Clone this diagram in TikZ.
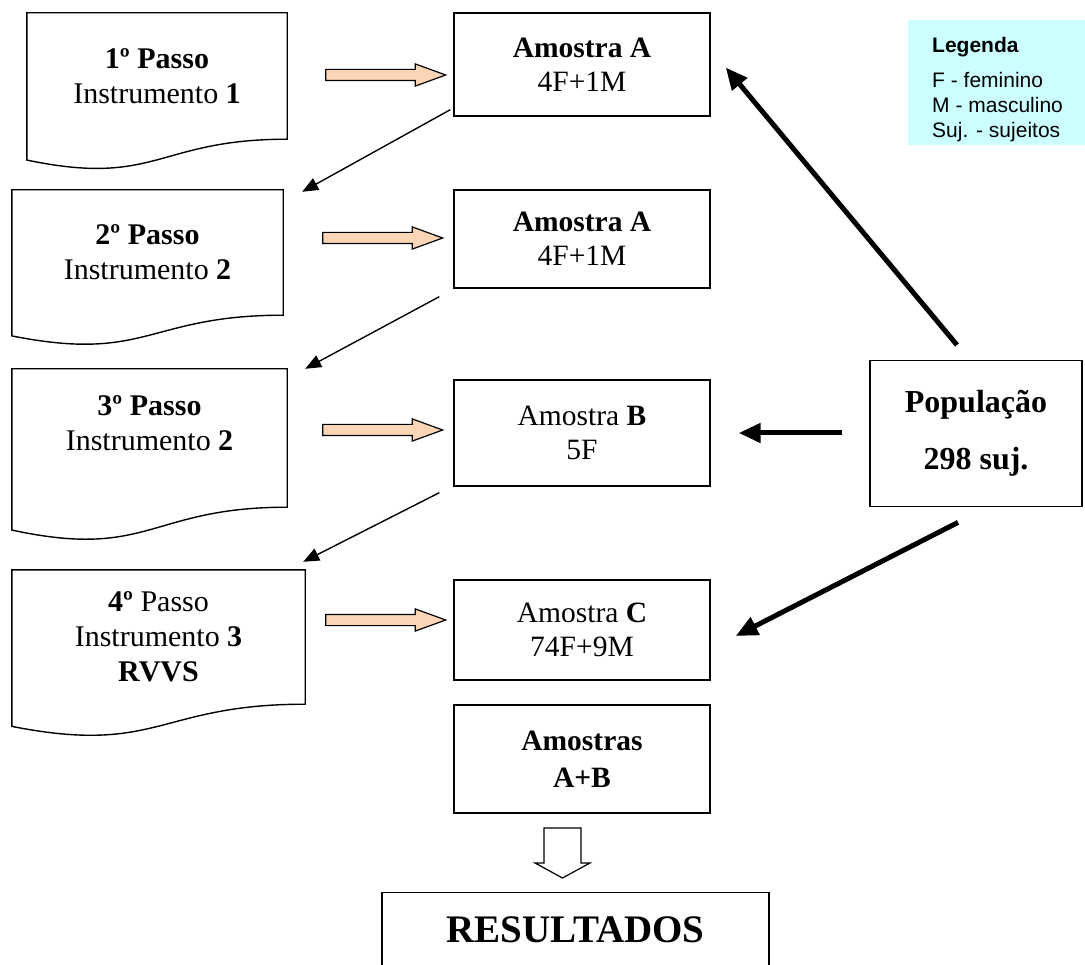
\documentclass[tikz,border=0pt]{standalone}
\usepackage{fontspec}
\setmainfont{Liberation Serif}
\newfontfamily\legfont{Liberation Sans}
\usetikzlibrary{shapes.arrows,arrows.meta,calc}
\definecolor{peach}{HTML}{FBD5B5}
\definecolor{legcyan}{HTML}{CCFFFF}
% document outline under a node
\newcommand{\docpath}[1]{%
  \draw[line width=1.4pt] (#1.north west) -- (#1.north east) -- (#1.south east)
    .. controls (#1.south) and ($(#1.north)!1.381!(#1.south)$) .. ($(#1.north west)!1.165!(#1.south west)$) -- cycle;}
\tikzset{
  docnode/.style={inner sep=0pt, align=center, font=\fontsize{30}{35}\selectfont},
  ambox/.style={draw, line width=1.4pt, minimum width=256pt, inner sep=0pt, align=center,
    font=\fontsize{29.5}{34}\selectfont},
  blockarr/.style={single arrow, draw, line width=1.2pt, fill=peach, minimum height=120pt,
    inner xsep=0pt, inner ysep=5pt, single arrow head extend=5.5pt, single arrow tip angle=40},
  thinarr/.style={-{Triangle[length=16pt,width=13pt]}, line width=1.4pt},
  thickarr/.style={-{Triangle[length=22pt,width=19pt]}, line width=5pt},
}
\begin{document}
\begin{tikzpicture}[x=1pt,y=-1pt]
  \useasboundingbox (0,0) rectangle (1085,965);

  % passos
  \node[docnode, minimum width=260pt, minimum height=126pt] (doc1) at (157,76)
    {\textbf{1º Passo}\\Instrumento \textbf{1}};
  \node[docnode, minimum width=271pt, minimum height=125pt] (doc2) at (147.5,252.5)
    {\textbf{2º Passo}\\Instrumento \textbf{2}};
  \node[docnode, minimum width=275pt, minimum height=138pt, text depth=30pt] (doc3) at (149.5,438)
    {\textbf{3º Passo}\\Instrumento \textbf{2}};
  \node[docnode, minimum width=293pt, minimum height=134pt] (doc4) at (158.5,637)
    {\textbf{4º} Passo\\Instrumento \textbf{3}\\\textbf{RVVS}};
  \docpath{doc1}
  \docpath{doc2}
  \docpath{doc3}
  \docpath{doc4}

  % amostras
  \node[ambox, minimum height=103pt] (amA1) at (582,64.5) {\textbf{Amostra A}\\4F+1M};
  \node[ambox, minimum height=98pt]  (amA2) at (582,239) {\textbf{Amostra A}\\4F+1M};
  \node[ambox, minimum height=106pt] (amB)  at (582,433) {Amostra \textbf{B}\\5F};
  \node[ambox, minimum height=100pt] (amC)  at (582,630) {Amostra \textbf{C}\\74F+9M};
  \node[ambox, minimum height=108pt, font=\fontsize{29.5}{37}\selectfont\bfseries] (amAB) at (582,759)
    {Amostras\\A+B};
  \node[draw, line width=1.4pt, minimum width=387pt, minimum height=110pt, anchor=north,
    font=\fontsize{39}{45}\selectfont\bfseries, text depth=36pt] (res) at (575.5,892) {RESULTADOS};

  \node[draw, line width=1.4pt, minimum width=212pt, minimum height=146pt, anchor=north,
    align=center, font=\fontsize{32}{57}\selectfont\bfseries] (pop) at (976,360)
    {População\\298 suj.};

  \node[fill=legcyan, minimum width=177pt, minimum height=125pt, anchor=north west,
    inner sep=0pt] (leg) at (908,20) {};
  \node[anchor=north west, align=left, inner sep=0pt, font=\legfont\fontsize{21}{25}\selectfont]
    (legtxt) at (932,37) {\textbf{Legenda}\\[10pt]F - feminino\\M - masculino\\Suj. - sujeitos};

  \node[blockarr] (ba1) at (378,75) {};
  \node[blockarr] (ba2) at (375,238) {};
  \node[blockarr] (ba3) at (375,430) {};
  \node[blockarr] (ba4) at (378,620) {};

  \draw[thinarr] ([shift={(-3,-7)}]amA1.south west) -- ([shift={(19,2)}]doc2.north east);
  \draw[thinarr] ([shift={(-14,8)}]amA2.south west) -- ([shift={(18,0)}]doc3.north east);
  \draw[thinarr] ([shift={(-14,6)}]amB.south west) -- ([shift={(-2,-8)}]doc4.north east);

  \draw[thickarr] ([shift={(-19,-15)}]pop.north) -- ([shift={(15,3)}]amA1.east);
  \draw[thickarr] ([xshift=-27pt]pop.west |- amB.east) -- ([xshift=28pt]amB.east);
  \draw[thickarr] ([shift={(-18,15)}]pop.south) -- ([shift={(25,6)}]amC.east);

  % seta vazada
  \draw[line width=1.2pt] ([xshift=-38pt]amAB.south |- 0,828) coordinate (sv)
    -- ++(0,35) -- ++(-9,0) -- ++(27.5,15) -- ++(27.5,-15) -- ++(-9,0) -- ++(0,-35) -- cycle;
\end{tikzpicture}
\end{document}
